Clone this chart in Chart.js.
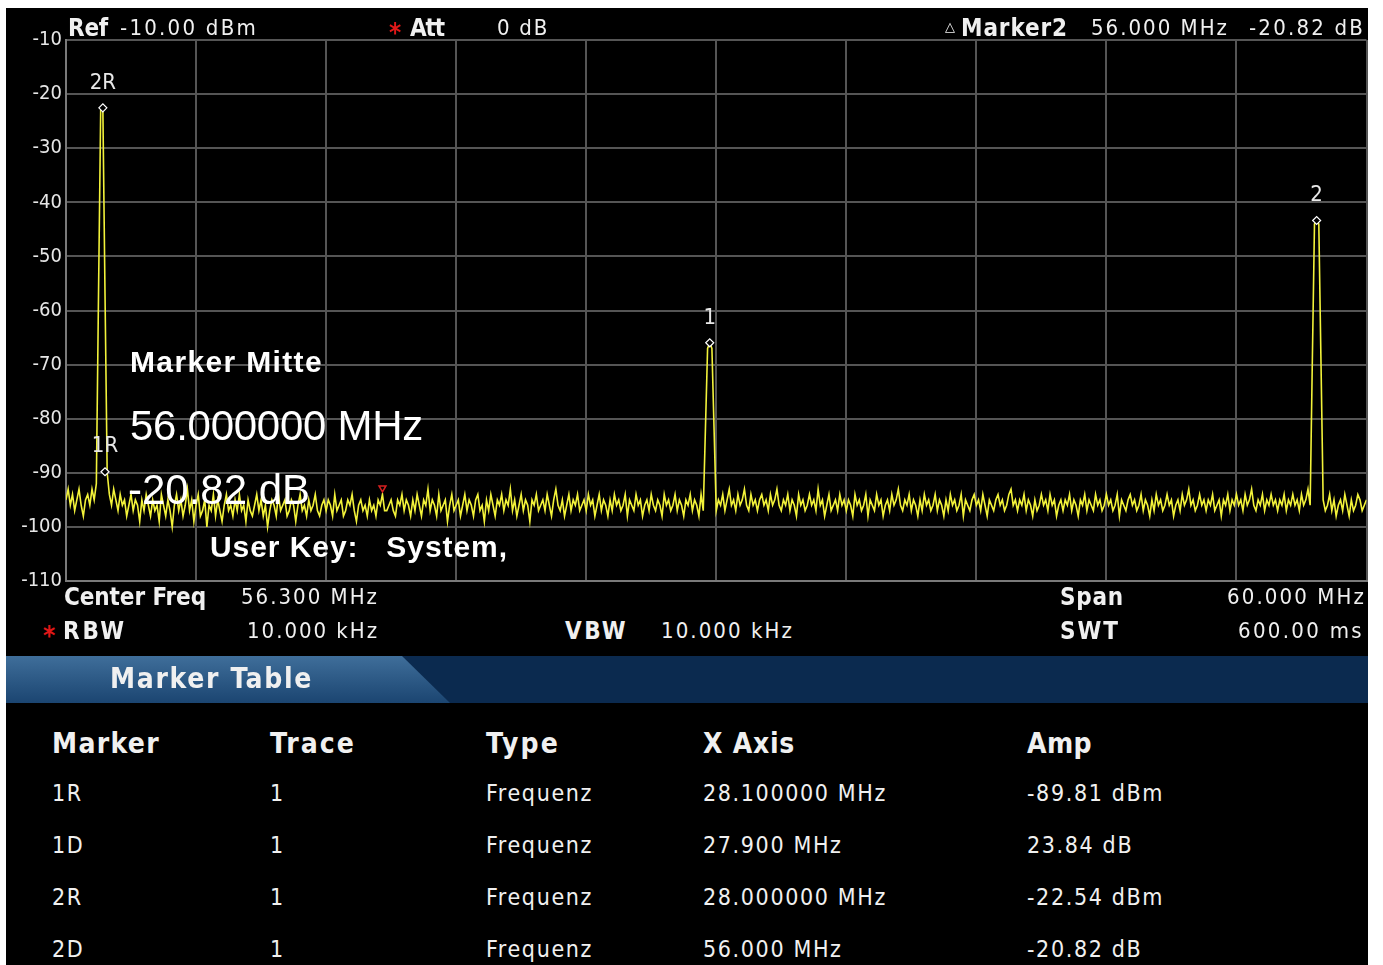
<!DOCTYPE html>
<html>
<head>
<meta charset="utf-8">
<title>Marker Table</title>
<script src="https://cdn.jsdelivr.net/npm/chart.js@4.4.0/dist/chart.umd.min.js"></script>
<style>
  body { margin: 0; width: 1383px; height: 965px; background: #fff; overflow: hidden; position: relative; }
  #screen { position: absolute; left: 6px; top: 8px; width: 1362px; height: 957px; background: #000; }
  #spec { position: absolute; left: 6px; top: 8px; }
  #band { position: absolute; left: 6px; top: 656px; width: 1362px; height: 47px; background: #0b2a4f; }
  #tab { position: absolute; left: 6px; top: 656px; width: 444px; height: 47px;
         background: linear-gradient(#3f6e9a, #1b4571);
         clip-path: polygon(0 0, 396px 0, 444px 100%, 0 100%); }
  .lbl { position: absolute; white-space: pre; line-height: 1; transform: translateY(-50%); color: #f0f0f0; }
</style>
</head>
<body>
<div id="screen"></div>
<canvas id="spec" width="1366" height="600" style="width:1366px;height:600px"></canvas>
<div id="band"></div>
<div id="tab"></div>
<script>
// sweep settings
var centerFreqMHz = 56.3;
var spanMHz = 60;
var refLevelDbm = -10;
var bottomLevelDbm = -110;

// trace 1, 601 sweep points, dBm
var traceLevelsDbm = [
  -95,-93,-96,-94,-97,-95,-93,-96,-98,-95,-94,-96,-93,-95,-92,-57,-23,-22.5,-57,-90,
  -94,-96,-93,-95,-97,-94,-96,-95,-98,-96,-94,-97,-95,-96,-99,-95,-97,-94,-96,-98,
  -95,-97,-96,-99,-94,-96,-98,-95,-97,-100,-96,-94,-97,-95,-98,-96,-93,-97,-95,-99,
  -96,-94,-98,-97,-95,-100,-96,-97,-94,-98,-95,-97,-99,-96,-94,-97,-96,-98,-95,-97,
  -94,-97,-96,-99,-95,-97,-98,-96,-94,-97,-95,-98,-96,-100,-97,-95,-96,-98,-94,-97,
  -96,-95,-98,-97,-95,-96,-99,-96,-94,-97,-96,-98,-95,-97,-96,-94,-97,-98,-96,-95,
  -97,-95,-96,-98,-94,-97,-96,-95,-98,-97,-95,-96,-94,-97,-99,-96,-95,-97,-96,-98,
  -95,-97,-96,-98,-95,-96,-94,-97,-97,-96,-95,-97,-98,-95,-96,-94,-97,-95,-96,-98,
  -95,-97,-94,-96,-98,-95,-96,-93,-97,-95,-96,-98,-94,-97,-96,-95,-99,-96,-94,-97,
  -96,-95,-98,-96,-94,-97,-95,-96,-98,-95,-94,-97,-96,-99,-95,-97,-94,-96,-98,-95,
  -96,-94,-97,-95,-96,-93,-97,-95,-98,-96,-94,-97,-95,-96,-99,-95,-96,-94,-97,-96,
  -95,-97,-94,-96,-98,-95,-93,-96,-97,-95,-98,-96,-94,-97,-95,-96,-94,-97,-96,-95,
  -97,-94,-96,-95,-98,-96,-94,-97,-95,-96,-98,-95,-97,-94,-96,-95,-97,-96,-94,-98,
  -95,-96,-97,-94,-96,-95,-98,-96,-95,-97,-94,-96,-97,-95,-96,-98,-94,-96,-95,-97,
  -96,-94,-97,-95,-96,-98,-95,-96,-94,-97,-95,-96,-98,-94,-97,-82,-67,-66,-67,-82,
  -97,-95,-96,-94,-97,-95,-93,-96,-95,-97,-94,-96,-95,-93,-96,-97,-94,-96,-95,-97,
  -95,-94,-96,-95,-97,-94,-96,-95,-93,-96,-97,-95,-96,-94,-97,-95,-96,-98,-94,-96,
  -95,-97,-96,-94,-96,-95,-97,-93,-96,-95,-98,-96,-94,-97,-96,-95,-97,-94,-96,-95,
  -97,-95,-96,-98,-94,-96,-95,-97,-96,-94,-98,-95,-96,-97,-94,-96,-95,-98,-96,-95,
  -97,-94,-96,-95,-93,-96,-97,-95,-96,-94,-97,-95,-96,-98,-95,-97,-94,-96,-95,-97,
  -96,-94,-97,-95,-96,-98,-95,-97,-94,-96,-95,-97,-96,-94,-98,-95,-96,-97,-95,-94,
  -96,-95,-97,-94,-96,-98,-95,-96,-97,-95,-94,-96,-95,-97,-96,-94,-93,-96,-95,-97,
  -95,-96,-94,-97,-95,-96,-98,-95,-97,-96,-94,-96,-95,-97,-94,-96,-95,-98,-96,-95,
  -97,-95,-96,-94,-97,-95,-96,-98,-95,-96,-94,-97,-95,-96,-97,-94,-96,-95,-97,-96,
  -94,-96,-95,-97,-96,-94,-98,-95,-96,-97,-95,-94,-96,-95,-97,-96,-94,-97,-95,-96,
  -98,-95,-97,-94,-96,-95,-97,-96,-94,-96,-95,-98,-96,-95,-97,-94,-96,-95,-93,-96,
  -95,-97,-96,-94,-96,-95,-97,-95,-96,-94,-97,-96,-95,-98,-95,-96,-94,-97,-95,-96,
  -94,-96,-95,-97,-94,-96,-95,-93,-96,-97,-95,-96,-94,-97,-95,-96,-94,-96,-95,-97,
  -95,-96,-94,-97,-95,-96,-94,-96,-95,-97,-94,-96,-95,-93,-96,-69.5,-44,-43.4,-44,-69.5,
  -95,-97,-96,-94,-97,-95,-98,-96,-95,-97,-94,-96,-98,-95,-97,-96,-94,-95,-97,-96,
  -95
];

// markers drawn on the trace
var markerNames = ['2R', '1R', '1', '2'];
var markerFreqMHz = [28.0, 28.1, 56.0, 84.0];
var markerLevelDbm = [-22.54, -89.81, -65.97, -43.36];

// peak search indicator
var peakFreqMHz = [40.9];
var peakLevelDbm = [-92.8];

// marker table
var tableHeaders = ['Marker', 'Trace', 'Type', 'X Axis', 'Amp'];
var tableMarker = ['1R', '1D', '2R', '2D'];
var tableTrace = ['1', '1', '1', '1'];
var tableType = ['Frequenz', 'Frequenz', 'Frequenz', 'Frequenz'];
var tableXAxis = ['28.100000 MHz', '27.900 MHz', '28.000000 MHz', '56.000 MHz'];
var tableAmp = ['-89.81 dBm', '23.84 dB', '-22.54 dBm', '-20.82 dB'];

var FONT_N = '"Liberation Sans Narrow","DejaVu Sans Condensed","Arial Narrow",sans-serif';
var FONT_S = '"Liberation Sans",Arial,sans-serif';

// place a text label; w = width to stretch it to with letter spacing
function put(text, x, cy, w, size, opts) {
  opts = opts || {};
  var el = document.createElement('div');
  el.className = 'lbl';
  el.textContent = text;
  el.style.left = x + 'px';
  el.style.top = cy + 'px';
  el.style.fontSize = size + 'px';
  el.style.fontFamily = opts.family || FONT_N;
  if (opts.bold) el.style.fontWeight = 'bold';
  if (opts.color) el.style.color = opts.color;
  if (opts.ls !== undefined) el.style.letterSpacing = opts.ls + 'px';
  document.body.appendChild(el);
  if (w) {
    var natural = el.getBoundingClientRect().width;
    el.style.letterSpacing = ((w - natural) / text.length) + 'px';
  }
  return el;
}

var startFreq = centerFreqMHz - spanMHz / 2;
var stepFreq = spanMHz / (traceLevelsDbm.length - 1);
var trace = traceLevelsDbm.map(function (v, i) { return { x: startFreq + i * stepFreq, y: v }; });
var markerPts = markerFreqMHz.map(function (f, i) { return { x: f, y: markerLevelDbm[i] }; });
var peakPts = peakFreqMHz.map(function (f, i) { return { x: f, y: peakLevelDbm[i] }; });
var xGrid = [];
for (var g = 0; g <= 10; g++) xGrid.push(startFreq + g * spanMHz / 10);

var markerLabels = {
  id: 'markerLabels',
  afterDatasetsDraw: function (chart) {
    var ctx = chart.ctx, xs = chart.scales.x, ys = chart.scales.y;
    ctx.save();
    ctx.fillStyle = '#e8e8e8';
    ctx.font = '22px ' + FONT_N;
    ctx.textAlign = 'center';
    ctx.textBaseline = 'middle';
    for (var i = 0; i < markerNames.length; i++) {
      ctx.fillText(markerNames[i], xs.getPixelForValue(markerFreqMHz[i]), ys.getPixelForValue(markerLevelDbm[i]) - 25);
    }
    ctx.restore();
  }
};

var ctx = document.getElementById('spec').getContext('2d');
var chart = new Chart(ctx, {
  type: 'line',
  data: {
    datasets: [
      {
        label: 'Trace 1',
        data: trace,
        borderColor: '#f2f23a',
        borderWidth: 1.6,
        pointRadius: 0,
        tension: 0,
        order: 3
      },
      {
        label: 'Marker',
        type: 'scatter',
        data: markerPts,
        pointStyle: 'rectRot',
        pointRadius: 4,
        borderColor: '#ffffff',
        backgroundColor: '#000000',
        borderWidth: 1.2,
        order: 1
      },
      {
        label: 'Peak',
        type: 'scatter',
        data: peakPts,
        pointStyle: 'triangle',
        rotation: 180,
        pointRadius: 4,
        borderColor: '#d42020',
        backgroundColor: 'rgba(0,0,0,0)',
        borderWidth: 1.5,
        order: 2
      }
    ]
  },
  options: {
    responsive: false,
    animation: false,
    layout: { padding: { left: 0, right: 2, top: 32, bottom: 27 } },
    plugins: { legend: { display: false }, tooltip: { enabled: false } },
    scales: {
      x: {
        type: 'linear',
        min: startFreq,
        max: startFreq + spanMHz,
        afterBuildTicks: function (s) { s.ticks = xGrid.map(function (v) { return { value: v }; }); },
        ticks: { display: false },
        grid: { color: '#555555', lineWidth: 2, drawTicks: false },
        border: { color: '#7a7a7a', width: 2 }
      },
      y: {
        min: bottomLevelDbm,
        max: refLevelDbm,
        ticks: { stepSize: 10, color: '#e6e6e6', padding: 4, font: { family: FONT_N, size: 20 } },
        grid: { color: '#555555', lineWidth: 2, drawTicks: false },
        border: { color: '#7a7a7a', width: 2 },
        afterFit: function (s) { s.width = 60; }
      }
    }
  },
  plugins: [markerLabels]
});

// header line
put('Ref', 68, 28, 40, 24, { bold: true });
put(refLevelDbm.toFixed(2) + ' dBm', 120, 28, 138, 22);
put('*', 389, 33, 0, 26, { bold: true, color: '#e01818' });
put('Att', 410, 28, 34, 24, { bold: true });
put('0 dB', 497, 28, 52, 22);
put('\u25B3', 945, 26, 0, 13, { family: '"DejaVu Sans",sans-serif' });
put('Marker2', 961, 28, 107, 24, { bold: true });
put('56.000 MHz', 1091, 28, 138, 22);
put('-20.82 dB', 1249, 28, 116, 22);

// settings lines
put('Center Freq', 64, 597, 142, 24, { bold: true });
put(centerFreqMHz.toFixed(3) + ' MHz', 241, 597, 138, 22);
put('Span', 1060, 597, 64, 24, { bold: true });
put(spanMHz.toFixed(3) + ' MHz', 1227, 597, 139, 22);
put('*', 43, 636, 0, 26, { bold: true, color: '#e01818' });
put('RBW', 63, 631, 64, 24, { bold: true });
put('10.000 kHz', 247, 631, 132, 22);
put('VBW', 565, 631, 63, 24, { bold: true });
put('10.000 kHz', 661, 631, 133, 22);
put('SWT', 1060, 631, 60, 24, { bold: true });
put('600.00 ms', 1238, 631, 126, 22);

// overlay text
put('Marker Mitte', 130, 362, 193, 30, { bold: true, family: FONT_S, color: '#ffffff' });
put('56.000000 MHz', 130, 426, 293, 42, { family: FONT_S, color: '#ffffff' });
put('-20.82 dB', 128, 490, 182, 42, { family: FONT_S, color: '#ffffff' });
put('User Key:   System,', 210, 547, 298, 30, { bold: true, family: FONT_S, color: '#ffffff' });

// marker table
put('Marker Table', 110, 679, 203, 28, { bold: true });
var colX = [52, 270, 486, 703, 1027];
var headW = [108, 86, 74, 92, 65];
for (var c = 0; c < tableHeaders.length; c++) put(tableHeaders[c], colX[c], 744, headW[c], 28, { bold: true });
var probe = put(tableXAxis[0], colX[3], 793, 184, 23);
var bodyLs = parseFloat(probe.style.letterSpacing);
var cols = [tableMarker, tableTrace, tableType, tableXAxis, tableAmp];
for (var r = 0; r < tableMarker.length; r++) {
  for (var k = 0; k < cols.length; k++) {
    if (r === 0 && k === 3) continue;
    put(cols[k][r], colX[k], 793 + r * 52, 0, 23, { ls: bodyLs });
  }
}
</script>
</body>
</html>
